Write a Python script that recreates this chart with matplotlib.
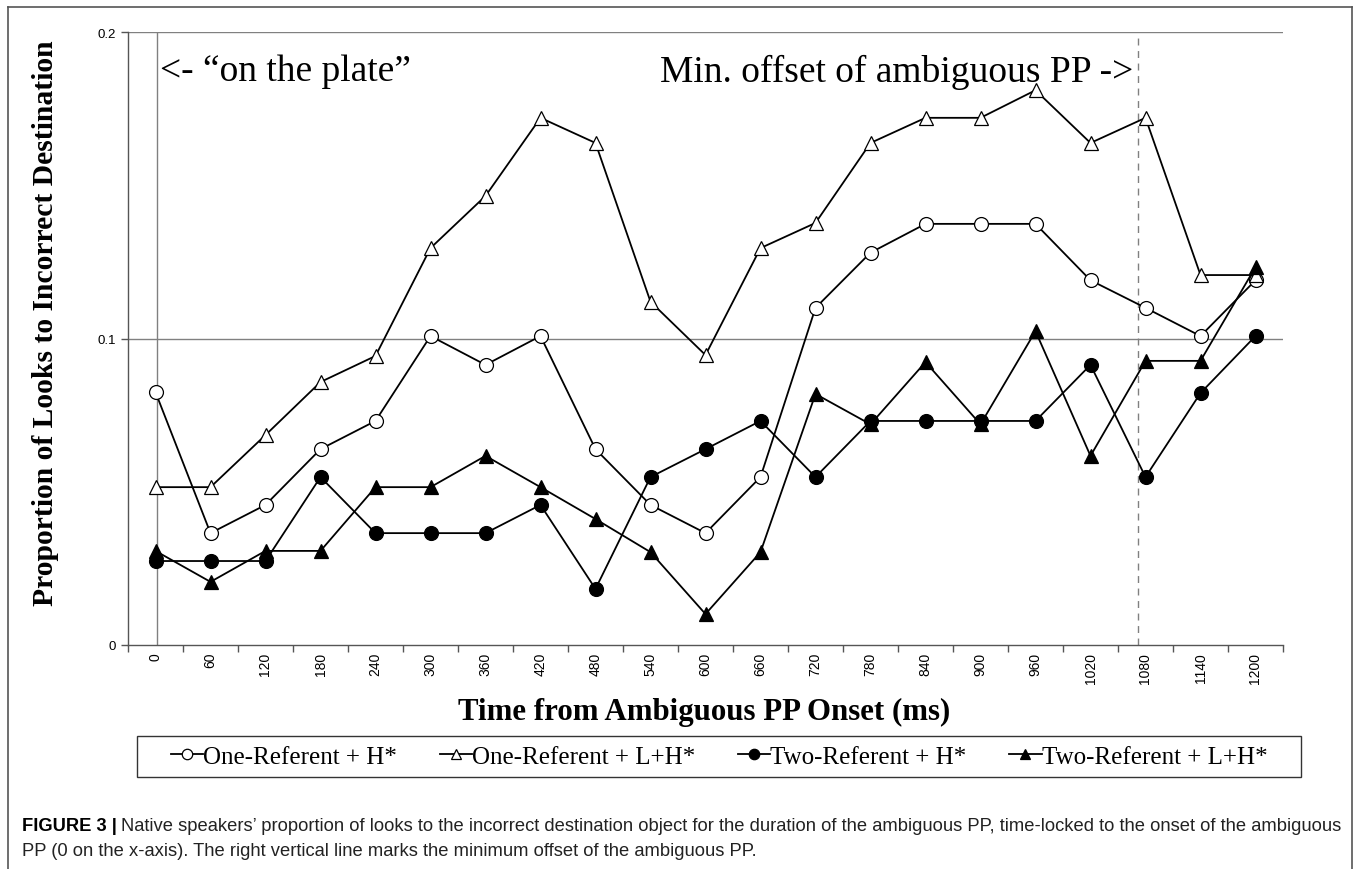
import matplotlib
matplotlib.use('Agg')
import matplotlib.pyplot as plt
from matplotlib.lines import Line2D
from matplotlib.patches import Rectangle
import numpy as np

# time bins (ms from ambiguous PP onset)
times = [0, 60, 120, 180, 240, 300, 360, 420, 480, 540, 600,
         660, 720, 780, 840, 900, 960, 1020, 1080, 1140, 1200]

one_ref_h = [0.0825, 0.0365, 0.0457, 0.0639, 0.0731, 0.1008, 0.0914, 0.1008, 0.0639, 0.0457, 0.0365,
             0.0548, 0.110, 0.128, 0.1374, 0.1374, 0.1374, 0.119, 0.110, 0.1008, 0.119]
one_ref_lh = [0.0515, 0.0515, 0.0685, 0.0858, 0.0943, 0.1295, 0.1465, 0.172, 0.1638, 0.112, 0.0946,
              0.1295, 0.1377, 0.1638, 0.172, 0.172, 0.181, 0.1638, 0.172, 0.1207, 0.1207]
two_ref_h = [0.0274, 0.0274, 0.0274, 0.0548, 0.0365, 0.0365, 0.0365, 0.0457, 0.0183, 0.0548, 0.0639,
             0.0731, 0.0548, 0.0731, 0.0731, 0.0731, 0.0731, 0.0914, 0.0548, 0.0822, 0.1008]
two_ref_lh = [0.0307, 0.0206, 0.0307, 0.0307, 0.0515, 0.0515, 0.0617, 0.0515, 0.0411, 0.0303, 0.0101,
              0.0303, 0.0819, 0.072, 0.0923, 0.072, 0.1024, 0.0617, 0.0927, 0.0927, 0.1233]

labels = ["One-Referent + H*", "One-Referent + L+H*", "Two-Referent + H*", "Two-Referent + L+H*"]
y_ticks = [0, 0.1, 0.2]
y_ticklabels = ["0", "0.1", "0.2"]

W, H = 1357, 870
fig = plt.figure(figsize=(W / 100, H / 100), dpi=100)
ax = fig.add_axes([128 / W, 1 - 646 / H, (1283 - 128) / W, (646 - 33) / H])

serif = 'Liberation Serif'
sans = 'Liberation Sans'

# outer frame of the figure panel (open at the bottom)
frame_col = '#555555'
fig.add_artist(Line2D([8 / W, 8 / W], [0, 1 - 8 / H], color=frame_col, lw=1.2))
fig.add_artist(Line2D([8 / W, 1352 / W], [1 - 8 / H, 1 - 8 / H], color=frame_col, lw=1.2))
fig.add_artist(Line2D([1352 / W, 1352 / W], [0, 1 - 8 / H], color=frame_col, lw=1.2))

# gridlines
for yv in [0.1, 0.2]:
    ax.axhline(yv, color='#808080', lw=1.0, zorder=0)

ax.axvline(2, color='#808080', lw=1.0, zorder=0)
ax.axvline(1072, color='#808080', lw=1.0, ls=(0, (5, 4)), zorder=0)

kw = dict(color='black', lw=1.3, ms=10, markeredgewidth=0.9, markeredgecolor='black', clip_on=False)
ax.plot(times, one_ref_h, marker='o', markerfacecolor='white', label=labels[0], **kw)
ax.plot(times, one_ref_lh, marker='^', markerfacecolor='white', label=labels[1], **kw)
ax.plot(times, two_ref_h, marker='o', markerfacecolor='black', label=labels[2], **kw)
ax.plot(times, two_ref_lh, marker='^', markerfacecolor='black', label=labels[3], **kw)

ax.set_xlim(-30, 1230)
ax.set_ylim(0, 0.2)
ax.set_xticks(times)
ax.set_xticklabels([str(t) for t in times], rotation=90, fontsize=10, family=sans)
ax.set_xticks([-30] + list(np.array(times) + 30), minor=True)
ax.tick_params(axis='x', which='major', length=0, pad=5)
ax.tick_params(axis='x', which='minor', length=5, color='#555555', width=1)
ax.set_yticks(y_ticks)
ax.set_yticklabels(y_ticklabels, fontsize=9.5, family=sans)
ax.tick_params(axis='y', length=5, color='#555555', width=1, pad=4)

for s in ['top', 'right']:
    ax.spines[s].set_visible(False)
for s in ['left', 'bottom']:
    ax.spines[s].set_color('#555555')
    ax.spines[s].set_linewidth(1.0)

fig.text(46 / W, 1 - 323 / H, "Proportion of Looks to Incorrect Destination", family=serif,
         fontweight='bold', fontsize=21.3, rotation=90, ha='center', va='center')
fig.text(704 / W, 1 - 712 / H, "Time from Ambiguous PP Onset (ms)", family=serif,
         fontweight='bold', fontsize=22.2, ha='center', va='center')

ax.text(160 / W, 1 - 72 / H, "<- \u201con the plate\u201d", transform=fig.transFigure,
        family=serif, fontsize=27, ha='left', va='center')
ax.text(1133 / W, 1 - 72 / H, "Min. offset of ambiguous PP ->", transform=fig.transFigure,
        family=serif, fontsize=27, ha='right', va='center')

# legend box
fig.add_artist(Rectangle((137 / W, 1 - 778 / H), (1301 - 137) / W, 41 / H,
                         transform=fig.transFigure, fill=False, edgecolor='#333333', lw=1.0))
leg = fig.legend(loc='center', ncol=4, bbox_to_anchor=(719 / W, 1 - 757.5 / H),
                 prop={'family': serif, 'size': 18}, frameon=False,
                 handlelength=1.3, handletextpad=0.0, columnspacing=1.7, markerscale=0.75)

# caption
cap_bold = fig.text(22 / W, 1 - 827 / H, "FIGURE 3 |", family=sans, fontweight='bold',
                    fontsize=13.2, ha='left', va='center')
fig.canvas.draw()
bb = cap_bold.get_window_extent()
fig.text((bb.x1 + 4) / W, 1 - 827 / H,
         "Native speakers\u2019 proportion of looks to the incorrect destination object for the duration "
         "of the ambiguous PP, time-locked to the onset of the ambiguous",
         family=sans, fontsize=13.2, ha='left', va='center', color='#222222')
fig.text(22 / W, 1 - 852 / H,
         "PP (0 on the x-axis). The right vertical line marks the minimum offset of the ambiguous PP.",
         family=sans, fontsize=13.2, ha='left', va='center', color='#222222')

fig.savefig('out.png', dpi=100)
